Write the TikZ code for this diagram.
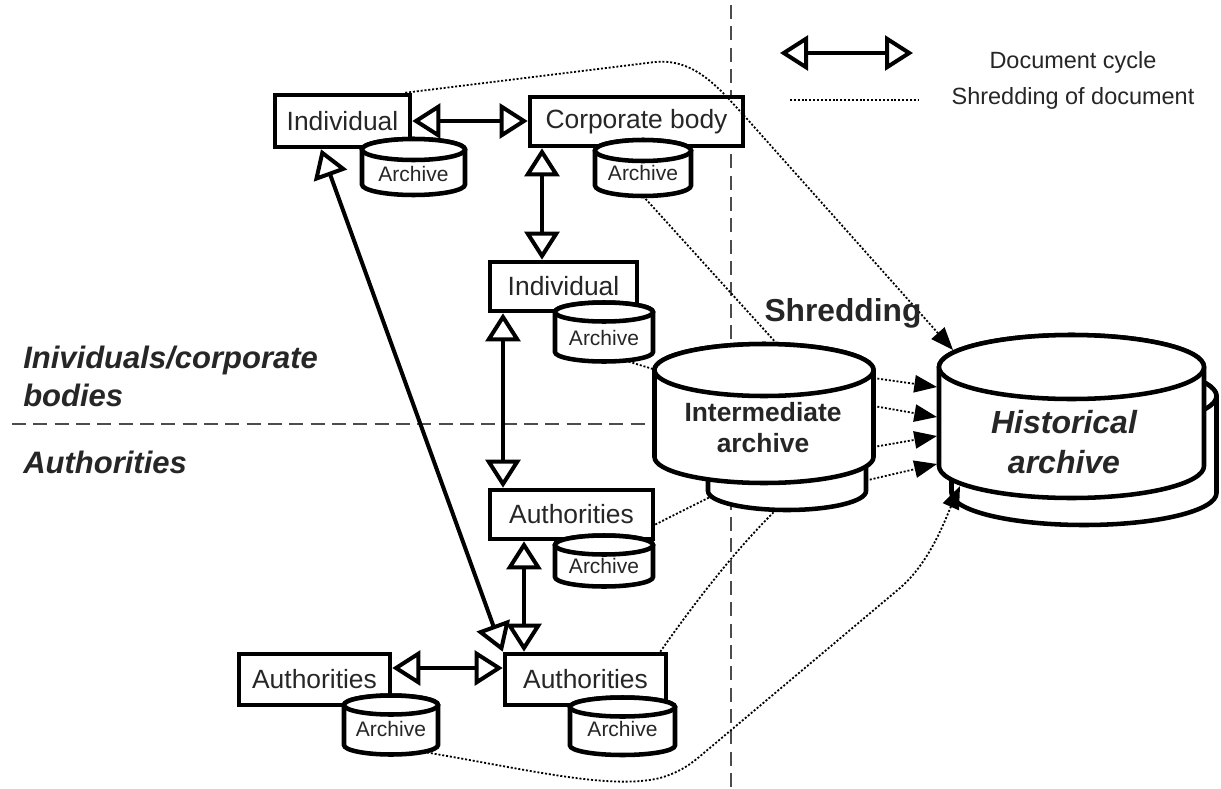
\documentclass[tikz,border=0pt]{standalone}
\usepackage{fontspec}
\setmainfont{Liberation Sans}
\usetikzlibrary{arrows.meta,calc}

\newcommand\archfont{\fontsize{15.75pt}{18pt}\selectfont}

\tikzset{
  box/.style={draw=black, fill=white, line width=3.4pt, inner sep=0pt,
    text=black!85, font=\fontsize{19.8pt}{24pt}\selectfont},
  drumline/.style={draw=black, fill=white, line width=3.4pt},
  divider/.style={draw=black!70, line width=1.5pt, dash pattern=on 10.5pt off 5.5pt},
  shred/.style={line width=1.35pt, dash pattern=on 1.5pt off 1.4pt},
  shredarrow/.style={shred, -{Triangle[length=17pt,width=13pt]}},
  cyclearrow/.style={line width=3pt,
    {Triangle[fill=white,length=21pt,width=26pt]}-{Triangle[fill=white,length=21pt,width=26pt]}},
  legendtext/.style={text=black!85, font=\fontsize{17.6pt}{21pt}\selectfont},
  zonetext/.style={text=black!85, anchor=west, align=left, inner sep=0pt,
    font=\bfseries\itshape\fontsize{23.25pt}{28.5pt}\selectfont},
}

% archive drum: name, cx, top cy, bottom cy, rx, ry, label position, label font, label
\newcommand\archivecyl[9]{%
  \pgfmathsetlengthmacro\cylrx{(#5)*0.75pt}%
  \pgfmathsetlengthmacro\cylry{(#6)*0.75pt}%
  \pgfmathsetlengthmacro\cylw{2*(#5)*0.75pt}%
  \pgfmathsetlengthmacro\cylh{((#4)-(#3)+2*(#6))*0.75pt}%
  \path[drumline] ({#2-#5},#3) -- ({#2-#5},#4)
     arc[start angle=180,end angle=360,x radius=\cylrx,y radius=\cylry]
     -- ({#2+#5},#3)
     arc[start angle=0,end angle=180,x radius=\cylrx,y radius=\cylry] -- cycle;
  \draw[drumline] (#2,#3) ellipse[x radius=\cylrx,y radius=\cylry];
  \node[inner sep=0pt, outer sep=0pt, minimum width=\cylw, minimum height=\cylh]
     (#1) at (#2,{((#3)+(#4))/2}) {};
  \node[align=center, inner sep=0pt, text=black!85, font=#8] (#1-label) at (#7) {#9};
}

\begin{document}
\begin{tikzpicture}[x=0.75pt,y=-0.75pt]
\useasboundingbox (0,0) rectangle (1221,789);
\fill[white] (0,0) rectangle (1221,789);

% zone dividers
\draw[divider] (731,5) -- (731,789);
\draw[divider] (12,424) -- (654,424);

% actors
\node[box, minimum width=101.25pt, minimum height=39pt]    (ind1)  at (342.5,121)   {Individual};
\node[box, minimum width=159.75pt, minimum height=36.75pt] (corp)  at (636.5,121.5) {Corporate body};
\node[box, minimum width=110.25pt, minimum height=36.75pt] (ind2)  at (563.5,286.5) {Individual};
\node[box, minimum width=122.25pt, minimum height=36.75pt] (auth1) at (571.5,514.5) {Authorities};
\node[box, minimum width=120.75pt, minimum height=38.25pt] (auth2) at (585.5,679.5) {Authorities};
\node[box, minimum width=113.25pt, minimum height=38.25pt] (auth3) at (314.5,679.5) {Authorities};

% local archives
\archivecyl{cyl1}{413.5}{149.5}{184.5}{51.5}{10.5}{413.5,174}{\archfont}{Archive}
\archivecyl{cyl2}{643}{150.5}{185.5}{48}{10.5}{643,173}{\archfont}{Archive}
\archivecyl{cyl3}{604}{312}{352}{49}{9.5}{604,338}{\archfont}{Archive}
\archivecyl{cyl4}{604}{545}{577}{49}{9.5}{604,566}{\archfont}{Archive}
\archivecyl{cyl5}{391}{705}{745}{47}{9.5}{391,729}{\archfont}{Archive}
\archivecyl{cyl6}{622.5}{707}{745.5}{52.5}{9.5}{622.5,729}{\archfont}{Archive}

% intermediate and historical archives
\archivecyl{under}{787}{440}{491}{79}{19}{787,470}{}{}
\archivecyl{int}{764}{370}{457}{109.5}{26}{763,427.5}{\bfseries\fontsize{19.8pt}{23.25pt}\selectfont}{Intermediate\\archive}
\archivecyl{back}{1084}{396}{493}{132.5}{32}{1084,445}{}{}
\archivecyl{hist}{1071.5}{367}{466}{132.5}{32}{1064,442}{\bfseries\itshape\fontsize{24pt}{30pt}\selectfont}{Historical\\archive}

% shredding paths
\draw[shredarrow] ($(ind1.north east)+(-7,0)$) -- (655,62)
   .. controls (697,58) and (722,92) .. (748,120) -- ($(hist.north)+(-118.5,15)$);
\draw[shred] (cyl2.south) -- ($(int.north)+(14,1)$);
\draw[shred] ($(cyl3.south)+(21,-1)$) -- ($(int.west)+(0,-44)$);
\draw[shred] ($(auth1.east)+(0,10)$) -- ($(under.west)+(3,31)$);
\draw[shred] ($(auth2.north east)+(-8,0)$) .. controls (700,595) and (740,545) .. ($(under.south)+(-10,-1)$);
\draw[shredarrow] ($(cyl5.south)+(36,-2)$) .. controls (530,770) and (610,790) .. (660,778)
   .. controls (680,772) and (690,765) .. (705,752) -- (900,588)
   .. controls (930,562) and (945,520) .. ($(hist.south)+(-111.5,-12)$);
\draw[shredarrow] ($(int.east)+(0,-35.5)$) -- ($(hist.west)+(-2,-29.5)$);
\draw[shredarrow] ($(int.east)+(0,-7.5)$) -- ($(hist.west)+(-2,0.5)$);
\draw[shredarrow] ($(int.east)+(0,33.5)$) -- ($(hist.west)+(-2,19.5)$);
\draw[shredarrow] ($(under.east)+(0,15)$) -- ($(hist.west)+(-2,47.5)$);

% document cycle
\coordinate (colA) at (542,0);
\coordinate (colB) at (503,0);
\coordinate (colC) at (524,0);
\coordinate (rowA) at (0,668);
\coordinate (diagT) at (321,0);
\draw[cyclearrow] (ind1.east) -- (ind1.east -| corp.west);
\draw[cyclearrow] (corp.south -| colA) -- (ind2.north -| colA);
\draw[cyclearrow] (ind2.south -| colB) -- (auth1.north -| colB);
\draw[cyclearrow] (auth1.south -| colC) -- (auth2.north -| colC);
\draw[cyclearrow] (auth3.east |- rowA) -- (auth2.west |- rowA);
\draw[cyclearrow] (ind1.south -| diagT) -- (auth2.north west);

% legend
\coordinate (legL) at (780,53);
\coordinate (legR) at (913,53);
\coordinate (legDL) at (790,100);
\coordinate (legDR) at (918,100);
\draw[cyclearrow] (legL) -- (legR);
\draw[shred] (legDL) -- (legDR);
\node[legendtext] (legCycle) at (1073,62) {Document cycle};
\node[legendtext] (legShred) at (1073,98) {Shredding of document};

% labels
\node[text=black!85, font=\bfseries\fontsize{23.8pt}{28pt}\selectfont] (shredLabel) at (843,313) {Shredding};
\node[zonetext] (zoneUpper) at (23,376) {Inividuals/corporate\\bodies};
\node[zonetext] (zoneLower) at (23,462) {Authorities};
\end{tikzpicture}
\end{document}
